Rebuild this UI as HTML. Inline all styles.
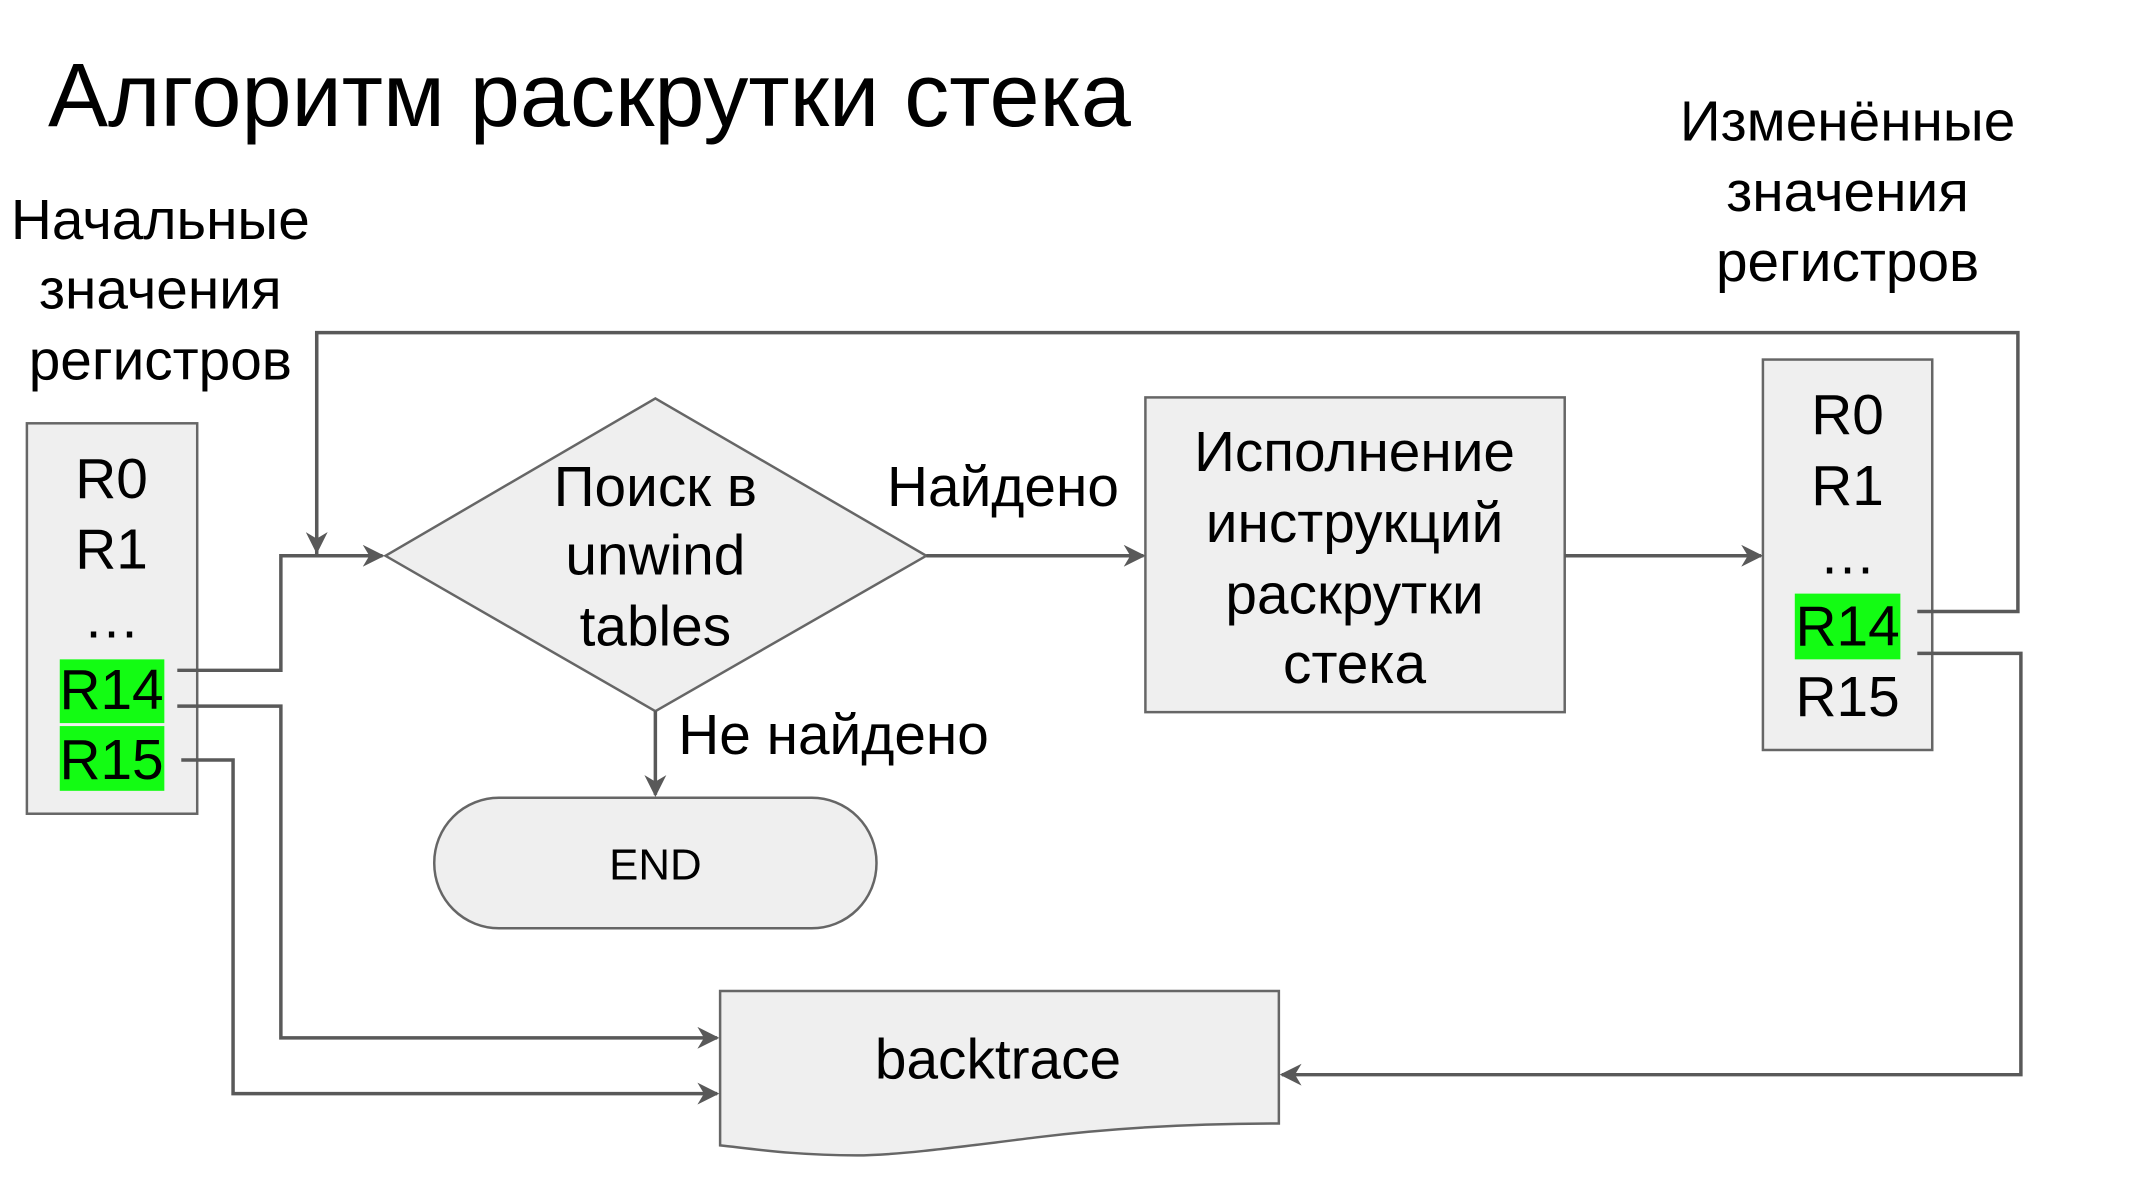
<!DOCTYPE html>
<html><head><meta charset="utf-8"><style>
html,body{margin:0;padding:0;background:#fff;}
svg{display:block;}
text{font-family:"Liberation Sans",Arial,sans-serif;fill:#000;}
</style></head><body>
<svg width="2133" height="1178" viewBox="0 0 2133 1178" xmlns="http://www.w3.org/2000/svg">
<defs>
<marker id="a" viewBox="0 0 10 10" refX="9" refY="5" markerWidth="26" markerHeight="22" markerUnits="userSpaceOnUse" orient="auto"><path d="M0,0 L10,5 L0,10 L3,5 z" fill="#595959"/></marker>
</defs>
<rect width="2133" height="1178" fill="#fff"/>
<text x="48" y="126" font-size="90">Алгоритм раскрутки стека</text>
<g transform="scale(0.996,0.996)">
<g font-size="57" text-anchor="middle">
<text x="161" y="240">Начальные</text>
<text x="161" y="310">значения</text>
<text x="161" y="381">регистров</text>
<text x="1855" y="141">Изменённые</text>
<text x="1855" y="212">значения</text>
<text x="1855" y="282">регистров</text>
</g>
<g fill="#efefef" stroke="#666" stroke-width="2.5">
<rect x="27" y="425" width="171" height="392"/>
<polygon points="387,558 658,400 930,558 658,714"/>
<rect x="1150" y="399" width="421" height="316"/>
<rect x="1770" y="361" width="170" height="392"/>
<rect x="436" y="801" width="444" height="131" rx="65" ry="65"/>
<path d="M723,995 L1284,995 L1284,1128 C1200,1128 1120,1132 1040,1142 C960,1152 900,1160 860,1160 C800,1160 760,1154 723,1150 Z"/>
</g>
<rect x="60" y="662" width="105" height="64" fill="#13fc13"/>
<rect x="60" y="729" width="105" height="65" fill="#13fc13"/>
<rect x="1802" y="596" width="106" height="66" fill="#13fc13"/>
<g font-size="57" text-anchor="middle">
<text x="112" y="500">R0</text>
<text x="112" y="571">R1</text>
<text x="112" y="640">…</text>
<text x="112" y="712">R14</text>
<text x="112" y="782">R15</text>
<text x="1855" y="436">R0</text>
<text x="1855" y="507">R1</text>
<text x="1855" y="576">…</text>
<text x="1855" y="648">R14</text>
<text x="1855" y="719">R15</text>
<text x="658" y="508">Поиск в</text>
<text x="658" y="577">unwind</text>
<text x="658" y="648">tables</text>
<text x="1007" y="508">Найдено</text>
<text x="1360" y="473">Исполнение</text>
<text x="1360" y="544">инструкций</text>
<text x="1360" y="616">раскрутки</text>
<text x="1360" y="686">стека</text>
<text x="1002" y="1083">backtrace</text>
</g>
<text x="681" y="757" font-size="57">Не найдено</text>
<text x="658" y="883" font-size="44" text-anchor="middle">END</text>
<g fill="none" stroke="#595959" stroke-width="3.5">
<path d="M318,558 L318,334 L2026,334 L2026,614 L1925,614" />
<path d="M318,334 L318,554" marker-end="url(#a)"/>
<path d="M178,673 L282,673 L282,558 L384,558" marker-end="url(#a)"/>
<path d="M930,558 L1148,558" marker-end="url(#a)"/>
<path d="M1571,558 L1768,558" marker-end="url(#a)"/>
<path d="M658,714 L658,798" marker-end="url(#a)"/>
<path d="M178,709 L282,709 L282,1042 L720,1042" marker-end="url(#a)"/>
<path d="M182,763 L234,763 L234,1098 L720,1098" marker-end="url(#a)"/>
<path d="M1925,656 L2029,656 L2029,1079 L1287,1079" marker-end="url(#a)"/>
</g>
</g>
</svg>
</body></html>
